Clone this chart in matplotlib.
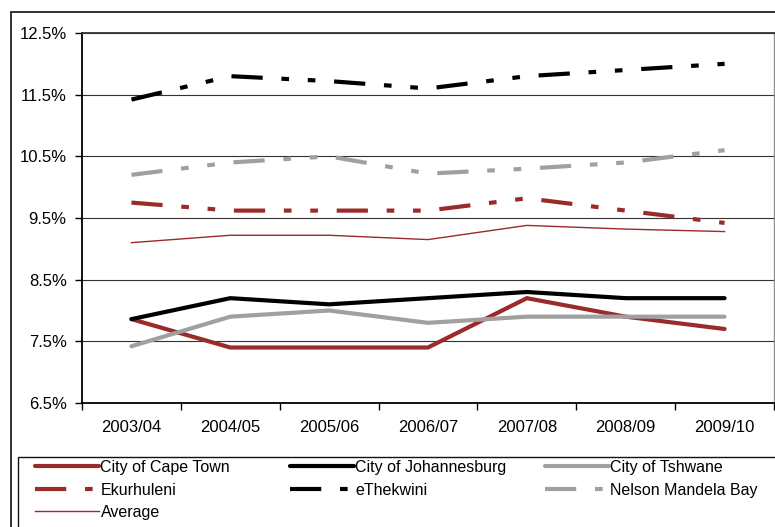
import matplotlib.pyplot as plt
from matplotlib.patches import Rectangle
from matplotlib.ticker import FixedLocator, FuncFormatter

plt.rcParams['font.family'] = ['Liberation Sans', 'DejaVu Sans']
plt.rcParams['lines.scale_dashes'] = False

years = ['2003/04', '2004/05', '2005/06', '2006/07', '2007/08', '2008/09', '2009/10']

cape_town = [7.86, 7.4, 7.4, 7.4, 8.2, 7.9, 7.7]
johannesburg = [7.86, 8.2, 8.1, 8.2, 8.3, 8.2, 8.2]
tshwane = [7.42, 7.9, 8.0, 7.8, 7.9, 7.9, 7.9]
ekurhuleni = [9.75, 9.62, 9.62, 9.62, 9.82, 9.62, 9.42]
ethekwini = [11.42, 11.8, 11.72, 11.6, 11.8, 11.9, 12.0]
nelson_mandela = [10.2, 10.4, 10.5, 10.22, 10.3, 10.4, 10.6]
average = [9.1, 9.22, 9.22, 9.15, 9.38, 9.32, 9.28]

RED = '#9b2a2a'
GREY = '#a0a0a0'
LONG_DASH_DOT_DOT = (0, (22.5, 13.5, 5.5, 13.5, 5.5, 13.5))

fig = plt.figure(figsize=(7.75, 5.27), dpi=100)
W, H = 775, 527

# outer chart frame and the legend box
fig.patches.append(Rectangle((11 / W, -0.1), 1.1, 1 - 12 / H + 0.1, transform=fig.transFigure,
                             fill=False, edgecolor='#222222', linewidth=1.3))
fig.patches.append(Rectangle((18 / W, -0.1), 1.1, 1 - 457 / H + 0.1, transform=fig.transFigure,
                             fill=False, edgecolor='#111111', linewidth=1.0))

ax = fig.add_axes([82 / W, 1 - 403 / H, (774 - 82) / W, (403 - 33) / H])
x = list(range(len(years)))

lines = {}
lines['City of Cape Town'] = ax.plot(x, cape_town, color=RED, lw=3, solid_capstyle='round',
                                     solid_joinstyle='miter')[0]
lines['City of Johannesburg'] = ax.plot(x, johannesburg, color='black', lw=3, solid_capstyle='round',
                                        solid_joinstyle='miter')[0]
lines['City of Tshwane'] = ax.plot(x, tshwane, color=GREY, lw=3, solid_capstyle='round',
                                   solid_joinstyle='miter')[0]
lines['Ekurhuleni'] = ax.plot(x, ekurhuleni, color=RED, lw=3, linestyle=LONG_DASH_DOT_DOT,
                              dash_capstyle='butt')[0]
lines['eThekwini'] = ax.plot(x, ethekwini, color='black', lw=3, linestyle=LONG_DASH_DOT_DOT,
                             dash_capstyle='butt')[0]
lines['Nelson Mandela Bay'] = ax.plot(x, nelson_mandela, color=GREY, lw=3, linestyle=LONG_DASH_DOT_DOT,
                                      dash_capstyle='butt')[0]
lines['Average'] = ax.plot(x, average, color=RED, lw=1.0)[0]

ax.set_xlim(-0.5, len(years) - 0.5)
ax.set_ylim(6.5, 12.5)

ax.yaxis.set_major_locator(FixedLocator([6.5, 7.5, 8.5, 9.5, 10.5, 11.5, 12.5]))
ax.yaxis.set_major_formatter(FuncFormatter(lambda v, p: f'{v:.1f}%'))
ax.tick_params(axis='y', direction='out', length=5, width=1, pad=6, labelsize=12, color='black')
ax.grid(axis='y', color='#333333', linewidth=0.8)
ax.set_axisbelow(True)

ax.set_xticks(x)
ax.set_xticklabels(years)
ax.set_xticks([i - 0.5 for i in range(len(years) + 1)], minor=True)
ax.tick_params(axis='x', which='major', length=0, pad=12, labelsize=12)
ax.tick_params(axis='x', which='minor', direction='out', length=5, width=1, color='black')

for side in ['left', 'bottom']:
    ax.spines[side].set_color('black')
    ax.spines[side].set_linewidth(1.3)
ax.spines['top'].set_color('#333333')
ax.spines['top'].set_linewidth(1.3)
ax.spines['right'].set_color('#909090')
ax.spines['right'].set_linewidth(1.0)

# legend laid out as three fixed columns
columns = [
    ['City of Cape Town', 'Ekurhuleni', 'Average'],
    ['City of Johannesburg', 'eThekwini'],
    ['City of Tshwane', 'Nelson Mandela Bay'],
]
col_x = [35, 290, 545]
for names, cx in zip(columns, col_x):
    fig.legend([lines[n] for n in names], names, loc='upper left',
               bbox_to_anchor=(cx / W, 1 - 460 / H), frameon=False, fontsize=11.5,
               handlelength=4.0, handletextpad=0.1, labelspacing=0.47,
               borderpad=0, borderaxespad=0)

plt.savefig('out.png', dpi=100)
